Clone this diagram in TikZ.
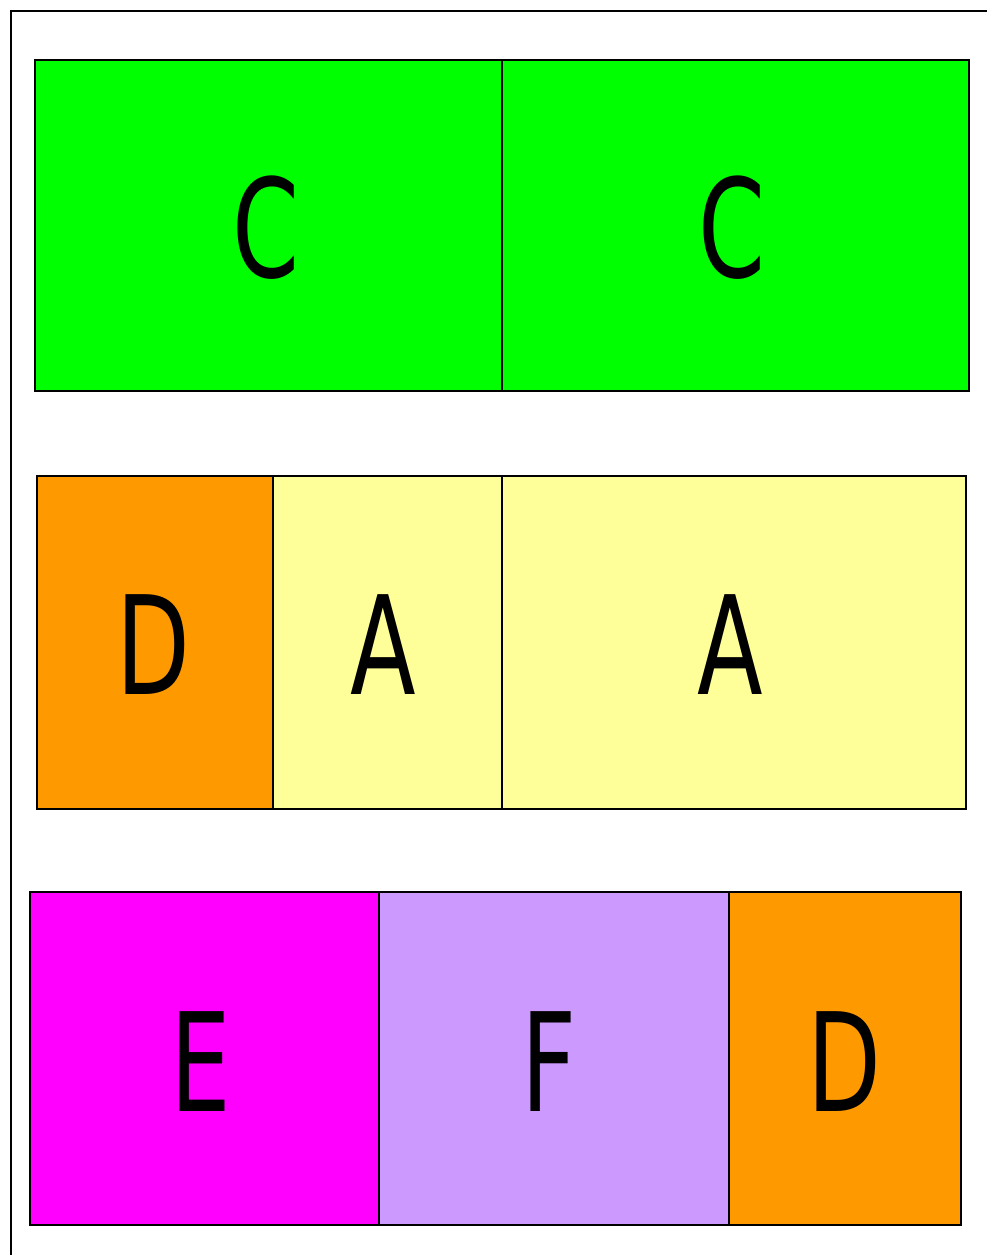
\documentclass[tikz,border=0pt]{standalone}
\usepackage{fontspec}
\setmainfont{DejaVu Sans}
\definecolor{cgreen}{HTML}{00FF00}
\definecolor{corange}{HTML}{FF9900}
\definecolor{cyellow}{HTML}{FFFF99}
\definecolor{cmagenta}{HTML}{FF00FF}
\definecolor{clav}{HTML}{CC99FF}
\tikzset{
  cell/.style={draw=black, line width=2pt},
  lbl/.style={font=\fontsize{137}{137}\selectfont, inner sep=0pt},
  frame/.style={draw=black, line width=2pt}
}
\newcommand{\squeeze}[1]{\scalebox{0.7}[1]{#1}}
\begin{document}
\begin{tikzpicture}[x=1pt,y=-1pt]
\useasboundingbox (0,0) rectangle (987,1255);
\clip (0,0) rectangle (987,1255);
\draw[frame] (11,1270) -- (11,11) -- (1000,11);
% row 1
\path[cell, fill=cgreen] (35,60) rectangle (502,391);
\path[cell, fill=cgreen] (502,60) rectangle (969,391);
\node[lbl] (c1) at (266,228) {\squeeze{C}};
\node[lbl] (c2) at (732,228) {\squeeze{C}};
% row 2
\path[cell, fill=corange] (37,476) rectangle (273,809);
\path[cell, fill=cyellow] (273,476) rectangle (502,809);
\path[cell, fill=cyellow] (502,476) rectangle (966,809);
\node[lbl] (d1) at (153,645) {\squeeze{D}};
\node[lbl] (a1) at (383,645) {\squeeze{A}};
\node[lbl] (a2) at (730,645) {\squeeze{A}};
% row 3
\path[cell, fill=cmagenta] (30,892) rectangle (379,1225);
\path[cell, fill=clav] (379,892) rectangle (729,1225);
\path[cell, fill=corange] (729,892) rectangle (961,1225);
\node[lbl] (e1) at (201,1062) {\squeeze{E}};
\node[lbl] (f1) at (549,1062) {\squeeze{F}};
\node[lbl] (d2) at (844,1062) {\squeeze{D}};
\end{tikzpicture}
\end{document}
